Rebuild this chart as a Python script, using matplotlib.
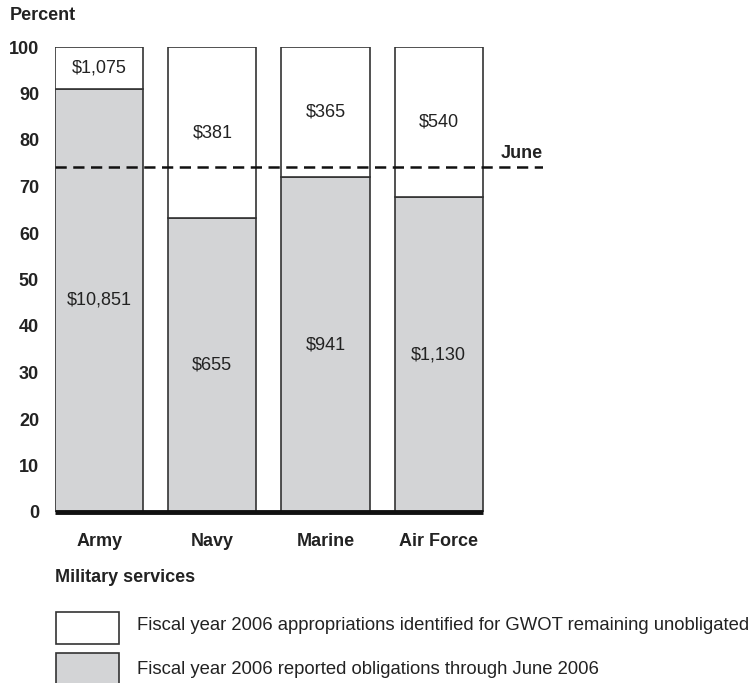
import matplotlib
matplotlib.use("Agg")
import matplotlib.pyplot as plt
from matplotlib.patches import Rectangle

plt.rcParams['font.family'] = ['Liberation Sans', 'DejaVu Sans']

services = ["Army", "Navy", "Marine", "Air Force"]
obligated_pct = [91.0, 63.2, 72.0, 67.7]
unobligated_pct = [9.0, 36.8, 28.0, 32.3]
obligated_labels = ["$10,851", "$655", "$941", "$1,130"]
unobligated_labels = ["$1,075", "$381", "$365", "$540"]
june_pct = 74.3
yticks = [0, 10, 20, 30, 40, 50, 60, 70, 80, 90, 100]

W, H = 755, 683
FS = 13
fig = plt.figure(figsize=(W / 100, H / 100), dpi=100)
ax = fig.add_axes([55 / W, (H - 512) / H, (543 - 55) / W, (512 - 47) / H])

gray = "#d3d4d6"
tc = "#222222"
width = 0.78
x = list(range(len(services)))
ax.bar(x, obligated_pct, width=width, color=gray, edgecolor="#333333", linewidth=1.2, zorder=2)
ax.bar(x, unobligated_pct, width=width, bottom=obligated_pct, color="white",
       edgecolor="#333333", linewidth=1.2, zorder=2)

for i in x:
    ax.text(i, obligated_pct[i] / 2, obligated_labels[i], ha="center", va="center",
            fontsize=FS, color=tc, zorder=3)
    ax.text(i, obligated_pct[i] + unobligated_pct[i] / 2, unobligated_labels[i],
            ha="center", va="center", fontsize=FS, color=tc, zorder=3)

# June reference line
ax.axhline(june_pct, color="#111111", linewidth=1.8, linestyle=(0, (4.5, 2.6)), zorder=4)
ax.text(3.92, june_pct + 0.9, "June", ha="right", va="bottom", fontsize=FS,
        fontweight="bold", color=tc)

# thick baseline under bars
ax.plot([-width / 2, 3 + width / 2], [0, 0], color="#111111", linewidth=3.5,
        solid_capstyle="butt", zorder=5, clip_on=False)

ax.set_xlim(-width / 2, 3 + width / 2 + 60 / 113)
ax.set_ylim(0, 100)
ax.set_yticks(yticks)
ax.set_yticklabels([str(t) for t in yticks], fontsize=FS, fontweight="bold", color=tc)
ax.tick_params(axis="y", length=0, pad=11.5)
ax.set_xticks(x)
ax.set_xticklabels(services, fontsize=FS, fontweight="bold", color=tc)
ax.tick_params(axis="x", length=0, pad=15)
for s in ax.spines.values():
    s.set_visible(False)

fig.text(10 / W, 1 - 16 / H, "Percent", ha="left", va="center", fontsize=FS,
         fontweight="bold", color=tc)
fig.text(55 / W, 1 - 578 / H, "Military services", ha="left", va="center", fontsize=FS,
         fontweight="bold", color=tc)

# legend
legend_items = [("white", "Fiscal year 2006 appropriations identified for GWOT remaining unobligated"),
                (gray, "Fiscal year 2006 reported obligations through June 2006")]
tops = [612, 653]
centers = [626, 670]
for (fc, label), top, cy in zip(legend_items, tops, centers):
    fig.add_artist(Rectangle((56 / W, 1 - (top + 32) / H), 63 / W, 32 / H,
                             transform=fig.transFigure, facecolor=fc,
                             edgecolor="#333333", linewidth=1.2))
    fig.text(137 / W, 1 - cy / H, label, ha="left", va="center",
             fontsize=13.3, color=tc)

fig.savefig("out.png", dpi=100)
